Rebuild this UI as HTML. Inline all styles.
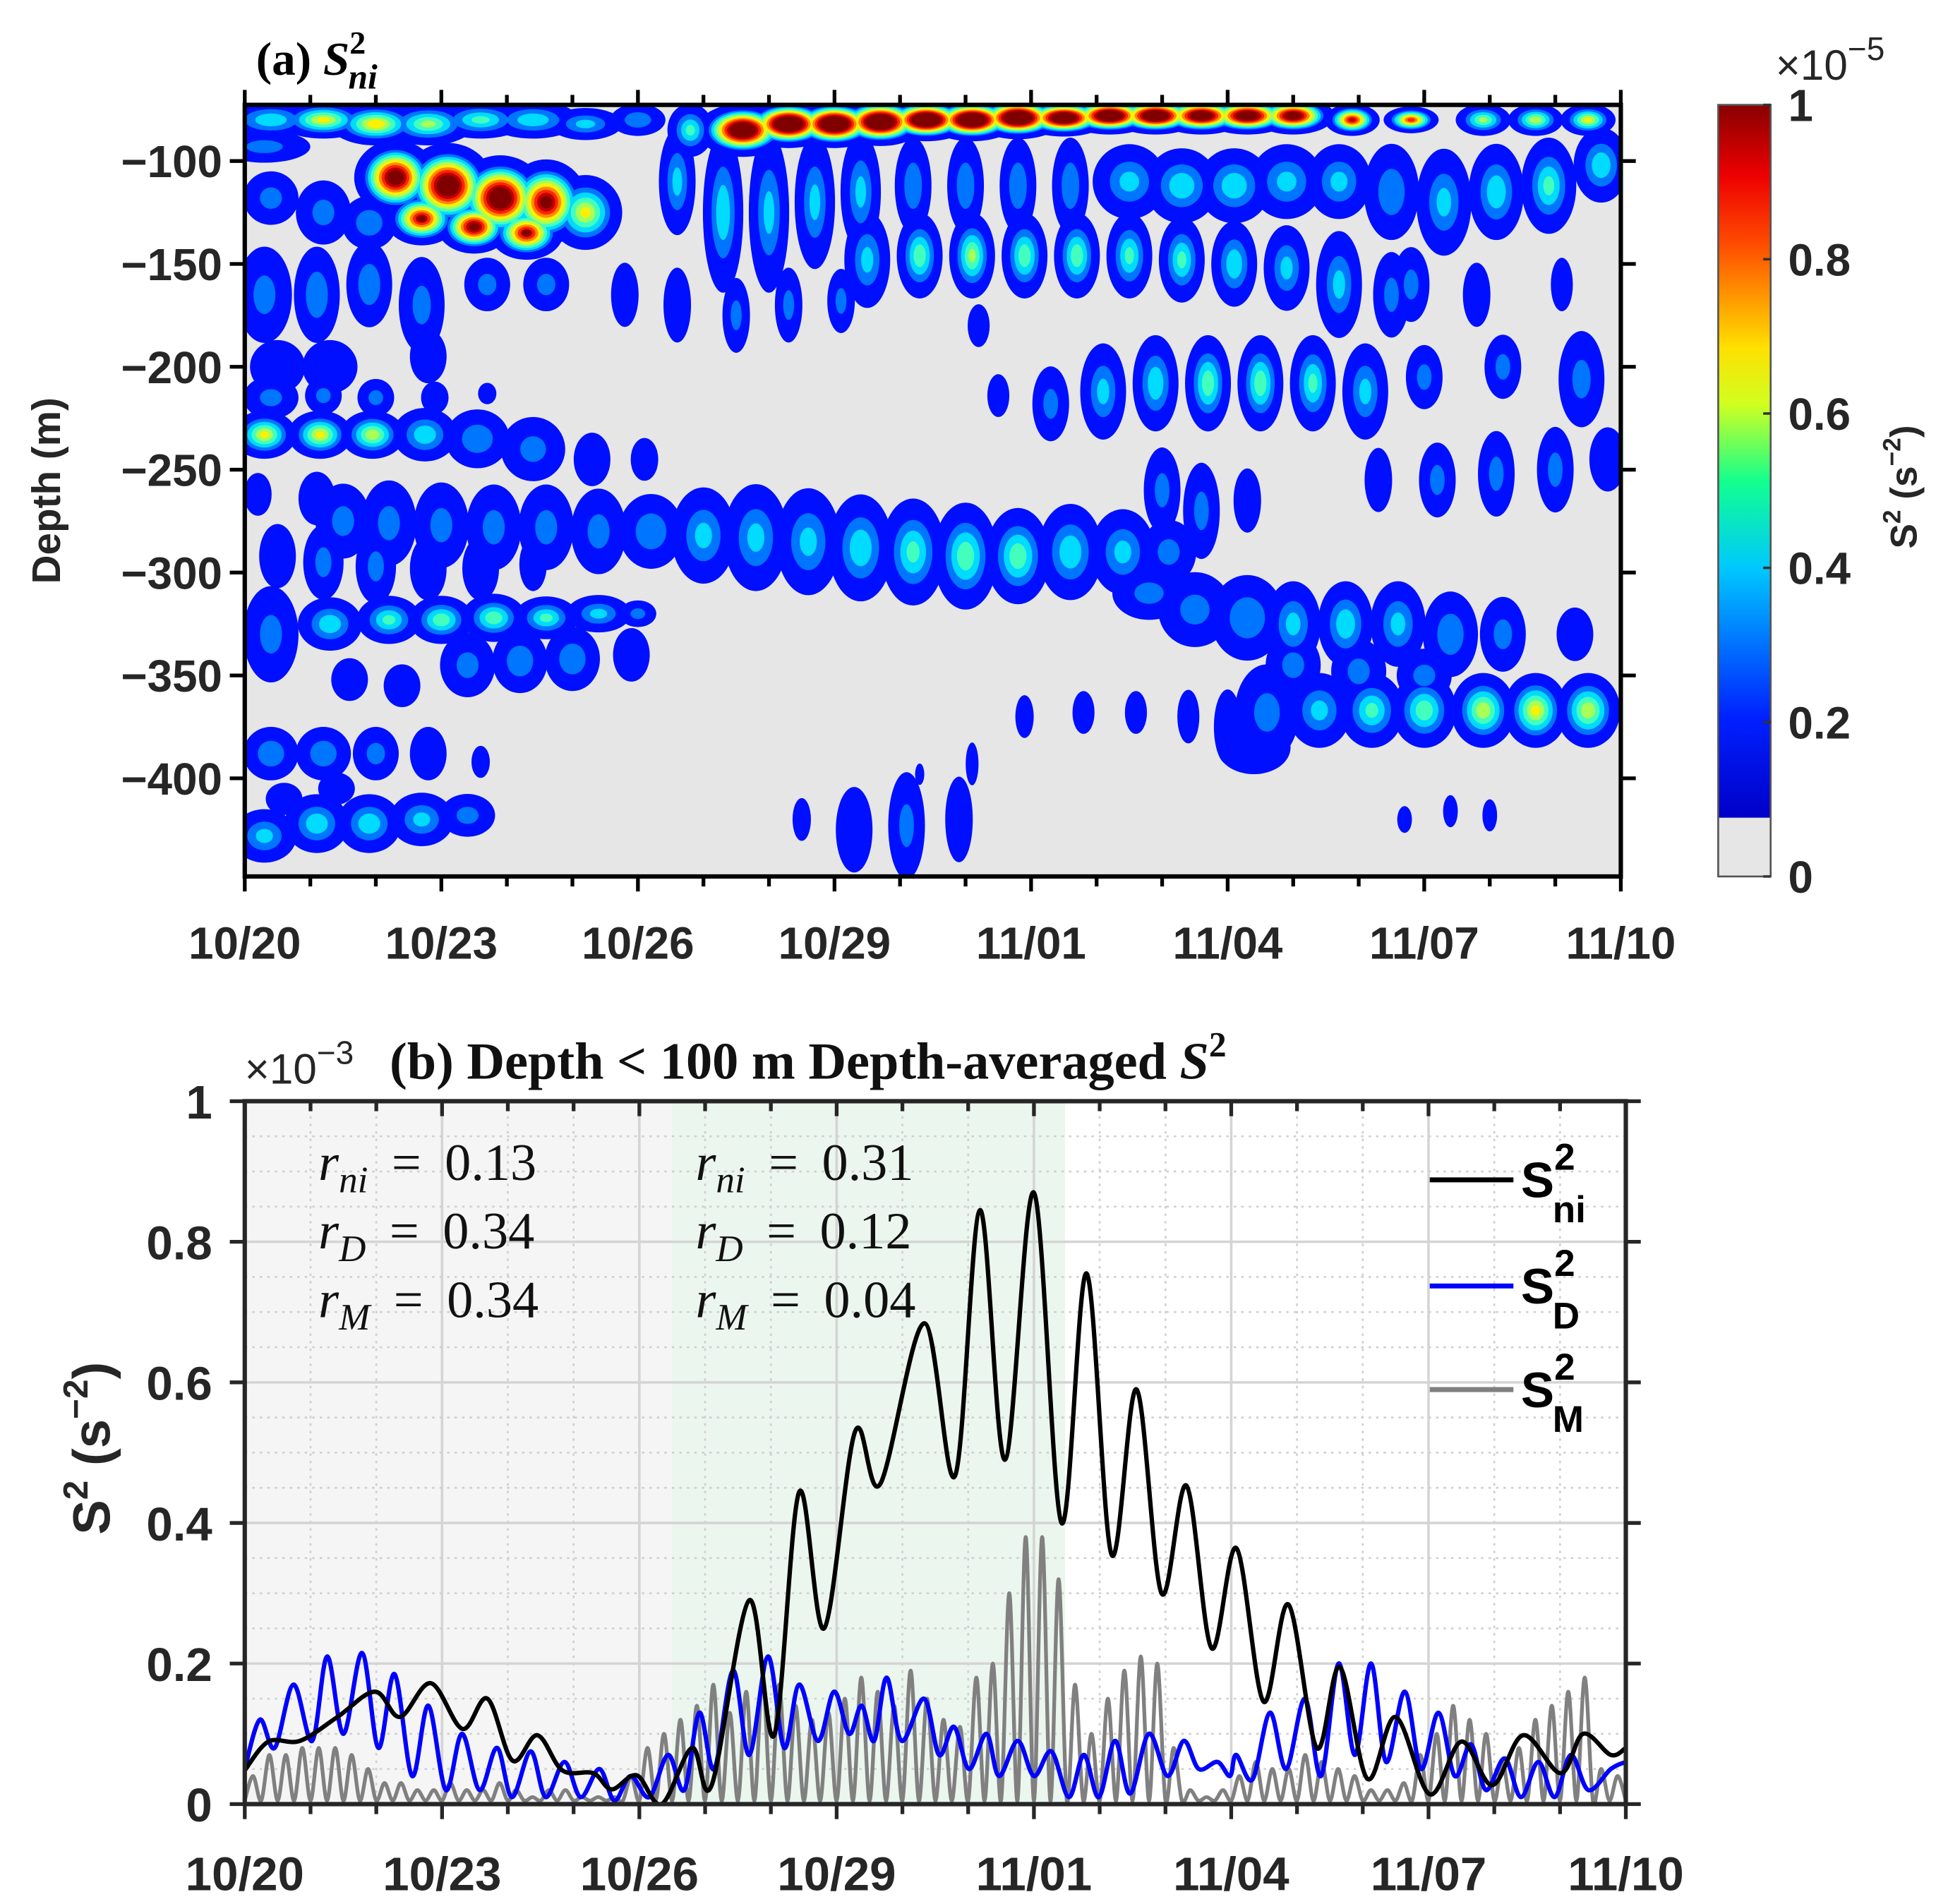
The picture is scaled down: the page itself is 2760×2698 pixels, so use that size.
<!DOCTYPE html>
<html><head><meta charset="utf-8">
<style>
html,body{margin:0;padding:0;background:#fff;}
svg{display:block;}
.tk{font-family:"Liberation Sans",Arial,sans-serif;font-weight:bold;font-size:36px;fill:#262626;}
.tm{font-family:"Liberation Serif","Times New Roman",serif;}
</style></head>
<body>
<svg id="fig" width="2760" height="2698" viewBox="0 0 1560 1525" xmlns="http://www.w3.org/2000/svg">
<defs>
<linearGradient id="jetbar" x1="0" y1="1" x2="0" y2="0">
<stop offset="0" stop-color="#0000c8"/><stop offset="0.14" stop-color="#0020ff"/><stop offset="0.35" stop-color="#00c8ff"/>
<stop offset="0.47" stop-color="#10ff90"/><stop offset="0.58" stop-color="#d0ff20"/><stop offset="0.66" stop-color="#ffe000"/>
<stop offset="0.8" stop-color="#ff5000"/><stop offset="0.9" stop-color="#ee0000"/><stop offset="1" stop-color="#880000"/>
</linearGradient>
<clipPath id="clipA"><rect x="196" y="84" width="1102" height="618"/></clipPath>
<clipPath id="clipB"><rect x="196" y="882" width="1106" height="563"/></clipPath>
</defs>
<g id="panelA"></g>
<g id="panelB"></g>
</svg>
<script>
// ---------- Panel (a) heatmap data (blobs) ----------
const blobDay = [0.4,1.2,2.0,2.8,3.6,4.4,5.2,6.0,0.3,
2.3,3.1,3.9,4.6,2.7,3.5,4.3,5.2,0.4,1.2,1.9,
7.6,8.3,9.0,9.7,10.4,11.1,11.8,12.5,13.2,13.9,14.6,15.3,16.0,16.9,17.8,18.9,19.7,20.5,6.8,
13.5,14.3,15.1,15.9,16.7,17.5,18.3,19.1,19.9,20.7,17.8,18.8,20.1,
9.5,10.3,11.1,11.9,12.7,13.5,14.3,15.1,15.9,16.7,17.5,
6.6,7.3,8.0,8.7,9.4,10.2,11.0,11.8,12.6,
5.8,6.6,7.5,8.3,9.1,11.2,
11.5,12.3,13.1,13.9,14.7,15.5,16.3,17.1,18.0,19.2,20.4,
0.3,1.1,1.9,2.7,3.7,4.6,0.5,1.3,2.8,
0.4,1.2,2.0,2.9,3.7,
0.3,1.15,1.95,2.75,3.55,4.4,5.3,6.1,0.2,1.1,
1.5,2.2,3.0,3.8,4.6,5.4,6.2,7.0,7.8,8.6,9.4,10.2,11.0,11.8,12.6,13.4,14.1,
0.5,1.2,2.0,2.8,3.6,4.4,
14.5,15.3,16.0,16.8,17.6,18.4,19.2,20.3,13.8,
14.0,14.6,15.3,17.3,18.2,19.1,20.0,20.8,
0.4,1.3,2.2,3.0,3.8,4.6,5.4,6.0,
3.4,4.2,5.0,5.9,1.6,2.4,
15.6,16.4,17.2,18.0,18.9,19.7,20.5,15.4,16.0,17.0,18.0,
11.9,12.8,13.6,14.4,15.0,
0.4,1.2,2.0,2.8,3.6,
0.3,1.1,1.9,2.7,3.4,0.6,1.4,
8.5,9.3,10.1,10.9,10.3,11.1,
17.7,18.4,19.0];
const blobDepth = [-80,-80,-82,-82,-80,-80,-82,-80,-93,
-108,-112,-118,-120,-128,-132,-135,-125,-118,-125,-130,
-85,-82,-82,-81,-80,-80,-79,-79,-78,-78,-78,-78,-78,-80,-80,-80,-80,-80,-85,
-110,-112,-112,-110,-110,-115,-120,-115,-112,-102,-160,-165,-160,
-148,-146,-146,-146,-146,-146,-148,-150,-152,-160,-165,
-110,-125,-125,-120,-115,-112,-112,-112,-112,
-165,-170,-175,-170,-168,-180,
-214,-218,-212,-208,-208,-208,-208,-212,-205,-200,-206,
-165,-165,-160,-170,-160,-160,-200,-200,-195,
-215,-214,-215,-215,-213,
-233,-233,-233,-233,-235,-240,-245,-245,-262,-264,
-275,-276,-277,-278,-278,-280,-280,-282,-283,-285,-288,-290,-292,-292,-290,-290,-290,
-292,-295,-297,-298,-298,-296,
-318,-322,-325,-325,-325,-330,-330,-330,-310,
-260,-270,-265,-255,-255,-252,-250,-245,
-330,-325,-323,-323,-322,-322,-320,-320,
-345,-343,-342,-340,-352,-355,
-368,-367,-367,-367,-367,-367,-367,-385,-345,-348,-350,
-370,-368,-368,-370,-375,
-388,-388,-388,-388,-392,
-428,-422,-422,-420,-418,-410,-405,
-420,-425,-423,-420,-398,-393,
-420,-416,-418];
const blobVal = [0.35,0.6,0.65,0.5,0.4,0.35,0.3,0.25,0.2,
1.2,1.3,1.3,1.1,1.0,1.1,1.0,0.6,0.2,0.2,0.25,
1.4,1.5,1.5,1.5,1.5,1.5,1.5,1.4,1.4,1.4,1.3,1.3,1.2,0.95,0.85,0.5,0.55,0.6,0.4,
0.3,0.35,0.35,0.3,0.3,0.25,0.3,0.35,0.4,0.35,0.2,0.15,0.12,
0.3,0.45,0.5,0.45,0.45,0.4,0.4,0.35,0.3,0.3,0.2,
0.3,0.35,0.3,0.3,0.3,0.25,0.25,0.25,0.25,
0.15,0.15,0.2,0.2,0.2,0.12,
0.15,0.2,0.3,0.35,0.45,0.45,0.4,0.3,0.2,0.2,0.2,
0.2,0.25,0.25,0.2,0.2,0.2,0.15,0.15,0.15,
0.2,0.2,0.2,0.15,0.1,
0.6,0.6,0.55,0.35,0.25,0.2,0.15,0.12,0.15,0.15,
0.2,0.2,0.2,0.2,0.2,0.2,0.25,0.3,0.3,0.3,0.35,0.4,0.45,0.45,0.35,0.3,0.2,
0.15,0.2,0.2,0.15,0.15,0.12,
0.2,0.25,0.3,0.35,0.3,0.25,0.2,0.15,0.2,
0.2,0.2,0.15,0.15,0.2,0.2,0.2,0.15,
0.2,0.35,0.4,0.45,0.45,0.4,0.3,0.2,
0.2,0.25,0.25,0.15,0.15,0.15,
0.2,0.3,0.4,0.45,0.55,0.6,0.55,0.15,0.2,0.2,0.2,
0.1,0.1,0.1,0.1,0.12,
0.25,0.25,0.2,0.15,0.1,
0.3,0.35,0.35,0.3,0.2,0.12,0.12,
0.12,0.15,0.2,0.15,0.1,0.1,
0.1,0.1,0.1];
const blobSpanDay = [0.5,0.5,0.5,0.5,0.5,0.5,0.4,0.3,0.5,
0.45,0.5,0.5,0.45,0.4,0.4,0.4,0.4,0.3,0.3,0.3,
0.5,0.5,0.5,0.5,0.5,0.5,0.5,0.5,0.5,0.5,0.5,0.5,0.45,0.3,0.3,0.3,0.3,0.3,0.25,
0.4,0.4,0.4,0.4,0.35,0.3,0.3,0.3,0.3,0.3,0.2,0.15,0.12,
0.25,0.25,0.25,0.25,0.25,0.25,0.25,0.25,0.25,0.25,0.2,
0.2,0.22,0.22,0.22,0.22,0.2,0.2,0.2,0.2,
0.15,0.15,0.15,0.15,0.15,0.12,
0.12,0.2,0.25,0.25,0.25,0.25,0.25,0.25,0.2,0.2,0.25,
0.3,0.25,0.25,0.25,0.25,0.25,0.3,0.3,0.2,
0.3,0.2,0.2,0.15,0.1,
0.35,0.35,0.35,0.35,0.35,0.35,0.2,0.15,0.15,0.2,
0.3,0.3,0.3,0.3,0.3,0.3,0.35,0.35,0.35,0.35,0.35,0.35,0.35,0.35,0.35,0.35,0.3,
0.2,0.22,0.22,0.2,0.2,0.15,
0.4,0.4,0.3,0.3,0.3,0.3,0.25,0.2,0.4,
0.2,0.2,0.15,0.15,0.2,0.2,0.2,0.2,
0.3,0.35,0.35,0.35,0.35,0.35,0.35,0.2,
0.3,0.3,0.3,0.2,0.2,0.2,
0.35,0.35,0.35,0.35,0.35,0.35,0.35,0.4,0.3,0.3,0.3,
0.1,0.12,0.12,0.12,0.15,
0.3,0.3,0.25,0.2,0.1,
0.35,0.35,0.35,0.35,0.3,0.2,0.2,
0.1,0.2,0.2,0.15,0.05,0.07,
0.08,0.08,0.08];
const blobSpanDepth = [7,7,8,8,7,7,6,6,6,
14,16,16,16,10,10,10,14,10,12,10,
10,9,9,9,8,8,8,7,7,7,7,7,7,6,5,6,6,6,10,
14,14,14,14,14,18,20,18,18,14,14,12,10,
18,16,16,16,16,16,16,16,16,20,16,
20,30,30,25,22,18,18,18,18,
12,14,14,14,12,8,
8,14,18,18,18,18,18,18,12,12,18,
18,18,16,18,10,10,10,10,10,
8,7,7,6,4,
9,9,9,10,11,12,10,8,8,10,
14,16,16,16,16,16,14,18,20,20,20,20,20,18,18,16,12,
12,14,14,12,12,10,
14,16,16,16,16,16,14,10,10,
16,18,12,12,14,16,16,12,
18,10,9,9,9,8,7,5,
12,12,12,10,8,8,
18,14,14,14,14,14,14,10,12,12,10,
8,8,8,10,14,
10,10,10,10,6,
10,11,11,10,8,6,6,
8,16,20,16,4,8,
5,6,6];
const aTickDepths = [-100,-150,-200,-250,-300,-350,-400];
const dateLabels = ['10/20','10/23','10/26','10/29','11/01','11/04','11/07','11/10'];
const cbTicks = [0,0.2,0.4,0.6,0.8,1];

// ---------- Panel (b) line data ----------
const niDay = [0,0.36,0.84,1.41,1.98,2.36,2.83,3.31,3.69,4.07,4.45,4.83,5.3,5.58,5.96,6.34,6.8,7.1,7.67,8.05,8.43,8.81,9.28,9.66,10.33,10.8,11.18,11.56,11.999,12.42,12.8,13.18,13.56,13.94,14.32,14.7,15.08,15.49,15.87,16.3,16.65,17.07,17.5,18.02,18.5,18.97,19.44,20.01,20.35,20.77,21];
const niVal = [0.048,0.089,0.09,0.124,0.16,0.124,0.172,0.107,0.15,0.062,0.098,0.048,0.044,0.021,0.041,0,0.08,0.027,0.29,0.098,0.444,0.25,0.53,0.455,0.684,0.467,0.845,0.49,0.87,0.4,0.755,0.355,0.59,0.3,0.453,0.222,0.364,0.146,0.284,0.08,0.195,0.036,0.124,0.014,0.089,0.027,0.098,0.044,0.1,0.07,0.08];
const dX = [196,208,220,235,250,262,275,290,303,316,330,343,357,370,384,398,410,425,437,452,465,480,492,505,520,535,548,560,572,587,600,615,628,640,655,668,680,690,700,710,722,740,752,764,776,790,800,815,828,842,856,868,880,893,905,920,935,948,960,975,985,990,1003,1017,1030,1045,1058,1072,1085,1098,1110,1125,1138,1152,1165,1178,1190,1205,1218,1232,1245,1258,1272,1290,1302];
const dVal = [0.05,0.12,0.08,0.17,0.09,0.21,0.1,0.215,0.08,0.185,0.04,0.14,0.02,0.1,0.02,0.08,0.01,0.075,0.01,0.06,0.01,0.05,0.005,0.04,0.01,0.07,0.02,0.13,0.05,0.19,0.07,0.21,0.08,0.17,0.09,0.16,0.1,0.14,0.09,0.18,0.09,0.15,0.07,0.11,0.05,0.1,0.04,0.09,0.04,0.075,0.01,0.07,0.01,0.09,0.015,0.1,0.04,0.09,0.05,0.06,0.04,0.07,0.035,0.13,0.05,0.15,0.04,0.2,0.07,0.2,0.06,0.16,0.05,0.13,0.04,0.085,0.02,0.065,0.01,0.06,0.01,0.07,0.02,0.05,0.06];
const mPeaks = [0.04,0.07,0.07,0.08,0.08,0.08,0.07,0.05,0.03,0.03,0.02,0.02,0.03,0.02,0.02,0.03,0.02,0.01,0.02,0.02,0.01,0.01,0.01,0.04,0.08,0.1,0.12,0.14,0.17,0.13,0.16,0.18,0.17,0.14,0.12,0.13,0.15,0.18,0.16,0.14,0.19,0.15,0.12,0.11,0.18,0.2,0.3,0.38,0.38,0.32,0.17,0.1,0.15,0.19,0.21,0.2,0.08,0.02,0.01,0.02,0.04,0.06,0.05,0.05,0.07,0.06,0.05,0.04,0.02,0.02,0.03,0.07,0.1,0.14,0.12,0.1,0.06,0.08,0.12,0.14,0.16,0.18,0.05,0.04];
const bYTicks = [0,0.2,0.4,0.6,0.8,1];

const NS='http://www.w3.org/2000/svg';
function mk(parent, tag, attrs, text){
  const e=document.createElementNS(NS,tag);
  for(const k in attrs) e.setAttribute(k,attrs[k]);
  if(text!==undefined) e.textContent=text;
  parent.appendChild(e); return e;
}
const xa=d=>196+d*1102/21, ya=z=>84+(-72.7-z)*1.648;
const xb=d=>196+d*1106/21, yb=v=>1445-v*563;
function jet(t){
  t=Math.min(1,t);
  const c=x=>Math.round(255*Math.max(0,Math.min(1,x)));
  return `rgb(${c(1.5-Math.abs(4*t-3))},${c(1.5-Math.abs(4*t-2))},${c(1.5-Math.abs(4*t-1))})`;
}

// ---------- Panel A ----------
const A=document.getElementById('panelA');
mk(A,'rect',{x:196,y:84,width:1102,height:618,fill:'#e6e6e6'});
const hm=mk(A,'g',{'clip-path':'url(#clipA)'});


const levels=[0.1,0.2,0.3,0.4,0.5,0.6,0.7,0.8,0.9,1.0];
levels.forEach(L=>{
  for(let i=0;i<blobDay.length;i++){
    const v=blobVal[i]; if(v<L-0.001) continue;
    const s=L===0.1?1:Math.max(0.12,0.8*(1-(L-0.1)/v));
    const e=mk(hm,'ellipse',{cx:xa(blobDay[i]),cy:ya(blobDepth[i]),rx:blobSpanDay[i]*52.5*1.4*s,ry:blobSpanDepth[i]*1.648*1.3*s,fill:jet(L===0.1?0.14:L+0.04)});
    
    
  }
});
mk(A,'rect',{x:196,y:84,width:1102,height:618,fill:'none',stroke:'#000','stroke-width':3.5});
for(let d=0;d<=21;d++){
  const x=xa(d), L=d%3===0?12:8;
  mk(A,'line',{x1:x,y1:84,x2:x,y2:84-L,stroke:'#000','stroke-width':3});
  mk(A,'line',{x1:x,y1:702,x2:x,y2:702+L,stroke:'#000','stroke-width':3});
}
dateLabels.forEach((t,i)=>{
  const e=mk(A,'text',{x:xa(i*3),y:768,'text-anchor':'middle',class:'tk'},t);
  
  
});
aTickDepths.forEach(z=>{
  const y=ya(z);
  mk(A,'line',{x1:184,y1:y,x2:196,y2:y,stroke:'#000','stroke-width':3});
  mk(A,'line',{x1:1298,y1:y,x2:1310,y2:y,stroke:'#000','stroke-width':3});
  const e=mk(A,'text',{x:178,y:y+13,'text-anchor':'end',class:'tk'},'\u2212'+Math.abs(z));
  
  
});
let t=mk(A,'text',{x:48,y:393,'text-anchor':'middle',class:'tk',style:'font-size:32px',transform:'rotate(-90 48 393)'},'Depth (m)');

t=mk(A,'text',{x:205,y:60,class:'tm',style:'font-size:38px;font-weight:bold'});

t.innerHTML='(a) <tspan font-style="italic">S</tspan><tspan font-size="26" dy="-17">2</tspan><tspan font-size="28" font-style="italic" dx="-14" dy="28">ni</tspan>';
const cb=mk(A,'g',{});

mk(cb,'rect',{x:1376,y:84,width:42,height:571,fill:'url(#jetbar)'});
mk(cb,'rect',{x:1376,y:655,width:42,height:47,fill:'#e6e6e6'});
mk(cb,'rect',{x:1376,y:84,width:42,height:618,fill:'none',stroke:'#555','stroke-width':1.5});
cbTicks.forEach(v=>{
  const y=702-v*618;
  mk(cb,'line',{x1:1412,y1:y,x2:1418,y2:y,stroke:'#333','stroke-width':2});
  const e=mk(cb,'text',{x:1432,y:y+13,class:'tk'},String(v));
  
});
t=mk(cb,'text',{x:1422,y:64,style:'font-family:"Liberation Sans",sans-serif;font-size:34px;fill:#262626'});
t.innerHTML='\u00d710<tspan font-size="26" dy="-16">\u22125</tspan>';

t=mk(cb,'text',{x:1535,y:390,'text-anchor':'middle',class:'tk',style:'font-size:30px',transform:'rotate(-90 1535 390)'});
t.innerHTML='S<tspan font-size="20" dy="-13">2</tspan><tspan dy="13"> (s</tspan><tspan font-size="20" dy="-13">\u22122</tspan><tspan dy="13">)</tspan>';


// ---------- Panel B ----------
const B=document.getElementById('panelB');
mk(B,'rect',{x:196,y:882,width:342,height:563,fill:'#f5f5f5'});
mk(B,'rect',{x:538,y:882,width:315,height:563,fill:'#ebf6ee'});
const grid=mk(B,'g',{});

for(let d=1;d<21;d++){
  const x=xb(d);
  if(d%3===0) mk(grid,'line',{x1:x,y1:882,x2:x,y2:1445,stroke:'#d4d4d4','stroke-width':2});
  else mk(grid,'line',{x1:x,y1:882,x2:x,y2:1445,stroke:'#d0d0d0','stroke-width':1.5,'stroke-dasharray':'2 4'});
}
for(let k=1;k<20;k++){
  const v=k*0.05, y=yb(v);
  if(k%4===0) mk(grid,'line',{x1:196,y1:y,x2:1302,y2:y,stroke:'#d4d4d4','stroke-width':2});
  else mk(grid,'line',{x1:196,y1:y,x2:1302,y2:y,stroke:'#d0d0d0','stroke-width':1.5,'stroke-dasharray':'2 4'});
}
const lines=mk(B,'g',{'clip-path':'url(#clipB)'});
function smoothPath(px,py){
  let d=`M${px[0]},${py[0]}`;
  for(let i=0;i<px.length-1;i++){
    const p0=i>0?i-1:i,p3=i+2<px.length?i+2:i+1;
    const c1x=px[i]+(px[i+1]-px[p0])/6,c1y=py[i]+(py[i+1]-py[p0])/6;
    const c2x=px[i+1]-(px[p3]-px[i])/6,c2y=py[i+1]-(py[p3]-py[i])/6;
    d+=`C${c1x},${c1y} ${c2x},${c2y} ${px[i+1]},${py[i+1]}`;
  }
  return d;
}
const mx=[],my=[];
mPeaks.forEach((v,i)=>{mx.push(xb(i*0.25));my.push(yb(0.005));mx.push(xb(i*0.25+0.125));my.push(yb(v));});
mx.push(xb(21));my.push(yb(0.005));
let p=mk(lines,'path',{d:smoothPath(mx,my),fill:'none',stroke:'#808080','stroke-width':3});

p=mk(lines,'path',{d:smoothPath(dX.map(x=>xb((x-196)/1106*21)),dVal.map(yb)),fill:'none',stroke:'#0000ff','stroke-width':3.5});

p=mk(lines,'path',{d:smoothPath(niDay.map(xb),niVal.map(yb)),fill:'none',stroke:'#000','stroke-width':3.5});

mk(B,'rect',{x:196,y:882,width:1106,height:563,fill:'none',stroke:'#262626','stroke-width':3.5});
for(let d=0;d<=21;d++){
  const x=xb(d),L=d%3===0?12:8;
  mk(B,'line',{x1:x,y1:882,x2:x,y2:882+L,stroke:'#262626','stroke-width':3});
  mk(B,'line',{x1:x,y1:1445,x2:x,y2:1445+L,stroke:'#262626','stroke-width':3});
}
dateLabels.forEach((s,i)=>{
  const e=mk(B,'text',{x:xb(i*3),y:1514,'text-anchor':'middle',class:'tk',style:'font-size:38px'},s);
  
});
bYTicks.forEach(v=>{
  const y=yb(v);
  mk(B,'line',{x1:184,y1:y,x2:196,y2:y,stroke:'#262626','stroke-width':3});
  mk(B,'line',{x1:1302,y1:y,x2:1314,y2:y,stroke:'#262626','stroke-width':3});
  const e=mk(B,'text',{x:170,y:y+14,'text-anchor':'end',class:'tk',style:'font-size:38px'},String(v));
  
});
t=mk(B,'text',{x:88,y:1160,'text-anchor':'middle',class:'tk',style:'font-size:42px',transform:'rotate(-90 88 1160)'});
t.innerHTML='S<tspan font-size="28" dy="-18">2</tspan><tspan dy="18"> (s</tspan><tspan font-size="28" dy="-18">\u22122</tspan><tspan dy="18">)</tspan>';

t=mk(B,'text',{x:196,y:868,style:'font-family:"Liberation Sans",sans-serif;font-size:34px;fill:#262626'});
t.innerHTML='\u00d710<tspan font-size="26" dy="-16">\u22123</tspan>';

t=mk(B,'text',{x:312,y:864,class:'tm',style:'font-size:42px;font-weight:bold;fill:#111'});
t.innerHTML='(b) Depth &lt; 100 m Depth-averaged <tspan font-style="italic">S</tspan><tspan font-size="28" dy="-18">2</tspan>';

const ann=[['ni','0.13',255,945],['D','0.34',255,1000],['M','0.34',255,1055],['ni','0.31',557,945],['D','0.12',557,1000],['M','0.04',557,1055]];
ann.forEach(a=>{
  const e=mk(B,'text',{x:a[2],y:a[3],class:'tm',style:'font-size:42px;fill:#111'});
  e.innerHTML=`<tspan font-style="italic">r</tspan><tspan font-style="italic" font-size="30" dy="10">${a[0]}</tspan><tspan dy="-10"> \u2009=\u2009 ${a[1]}</tspan>`;
  
});
const leg=[['#000','ni',945],['#0000ff','D',1030],['#808080','M',1113]];
leg.forEach(l=>{
  const g=mk(B,'g',{});
  
  mk(g,'line',{x1:1145,y1:l[2],x2:1212,y2:l[2],stroke:l[0],'stroke-width':4});
  const e=mk(g,'text',{x:1218,y:l[2]+14,class:'tk',style:'font-size:40px;fill:#000'});
  e.innerHTML=`S<tspan font-size="30" dy="-22">2</tspan><tspan font-size="30" dx="-18" dy="42">${l[1]}</tspan>`;
});
</script>
</body></html>
